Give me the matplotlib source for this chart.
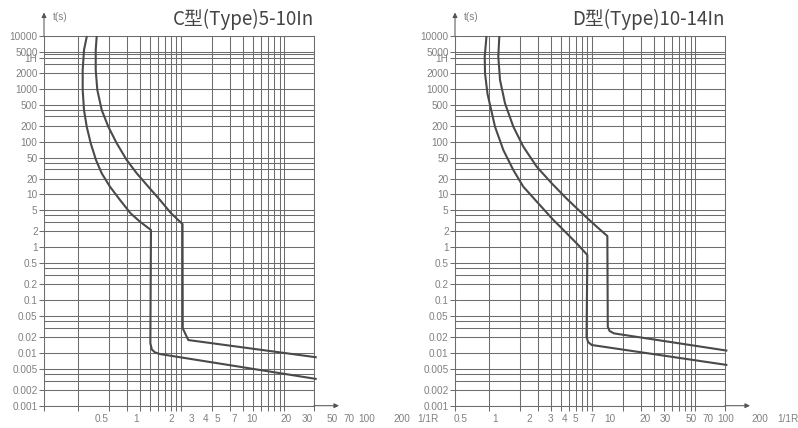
import matplotlib
matplotlib.use("Agg")
import matplotlib.pyplot as plt
from matplotlib.ticker import NullLocator

# ---------------- data ----------------
y_tick_values = [10000, 5000, 3800, 2000, 1000, 500, 200, 100, 50, 20, 10, 5, 2, 1,
                 0.5, 0.2, 0.1, 0.05, 0.02, 0.01, 0.005, 0.002, 0.001]
y_tick_labels = ['10000', '5000', '1H', '2000', '1000', '500', '200', '100', '50', '20', '10',
                 '5', '2', '1', '0.5', '0.2', '0.1', '0.05', '0.02', '0.01', '0.005',
                 '0.002', '0.001']
y_extra_lines = [4500, 2900, 400, 300, 40, 30, 4, 3, 0.4, 0.3, 0.04, 0.03, 0.004, 0.003]

x_grid = [1, 2, 3, 4, 5, 6, 7, 8, 9, 10, 20, 30, 40, 50, 60, 70, 80, 90, 100]
x_limits = (0.47, 194)

x_label_values = [0.5, 1, 2, 3, 4, 5, 7, 10, 20, 30, 50, 70, 100, 200]
x_label_texts = ['0.5', '1', '2', '3', '4', '5', '7', '10', '20', '30', '50', '70', '100', '200']
x_unit = '1/1R'
y_unit = 't(s)'

titles = ['C型(Type)5-10In', 'D型(Type)10-14In']

c_lower_x = [1.224, 1.147, 1.114, 1.114, 1.147, 1.219, 1.333, 1.499, 1.703, 2.049, 2.562,
             3.238, 4.00, 5.11, 5.04, 5.21, 5.59, 6.25, 206]
c_lower_y = [10000, 5430, 2270, 950, 397, 192, 93, 44.9, 25.1, 14, 7.85,
             4.40, 3.05, 2.12, 0.0152, 0.0116, 0.0102, 0.0095, 0.0032]
c_upper_x = [1.523, 1.49, 1.49, 1.544, 1.703, 1.973, 2.38, 2.975, 3.72, 4.82, 6.25,
             8.0, 10.33, 10.38, 11.75, 206]
c_upper_y = [10000, 5430, 2270, 950, 397, 192, 93, 44.9, 25.1, 14, 7.85,
             4.40, 2.75, 0.0292, 0.0175, 0.00824]

d_lower_x = [0.949, 0.912, 0.918, 0.971, 1.147, 1.381, 1.726, 2.157, 2.995, 4.18, 5.68,
             7.36, 9.0, 8.84, 9.14, 9.93, 204.5]
d_lower_y = [10000, 4055, 1967, 798, 192, 69.4, 29, 14, 6.88, 3.35, 1.84,
             1.10, 0.713, 0.0202, 0.0161, 0.0141, 0.00589]
d_upper_x = [1.263, 1.235, 1.283, 1.434, 1.726, 2.157, 2.91, 4.07, 5.72, 8.23, 11.1,
             14.06, 14.2, 14.77, 16.3, 204.5]
d_upper_y = [10000, 4055, 1468, 532, 192, 80.2, 33.5, 16.2, 8.19, 4.17, 2.45,
             1.63, 0.0313, 0.026, 0.0234, 0.011]

curves = [[(c_lower_x, c_lower_y), (c_upper_x, c_upper_y)],
          [(d_lower_x, d_lower_y), (d_upper_x, d_upper_y)]]

# ---------------- style / layout ----------------
W, H = 798, 428
GRID = '#6c6c6c'
TEXT = '#808080'
CURVE = '#4a4a4a'
LBL_FONT = ['Liberation Sans', 'DejaVu Sans']
TITLE_FONT = ['Noto Sans CJK SC', 'DejaVu Sans']
LBL_SIZE = 7.2


def rect(x0, x1, ytop, ybot):
    return [x0 / W, 1 - ybot / H, (x1 - x0) / W, (ybot - ytop) / H]


fig = plt.figure(figsize=(W / 100, H / 100), dpi=100)
fig.patch.set_facecolor('white')

panels = [dict(x0=44, x1=314, lab=(40, 440), one_px=136.5),
          dict(x0=455, x1=725, lab=(398, 798), one_px=495.0)]
ytop, ybot = 36, 405.7
DEC = 115.3  # px per decade of the label strip

for i, p in enumerate(panels):
    ax = fig.add_axes(rect(p['x0'], p['x1'], ytop, ybot))
    ax.set_facecolor('none')
    ax.set_xscale('log')
    ax.set_yscale('log')
    ax.set_xlim(*x_limits)
    ax.set_ylim(0.001, 10000)

    ax.set_xticks([x_limits[0]] + x_grid + [x_limits[1]])
    ax.xaxis.set_minor_locator(NullLocator())
    ax.tick_params(axis='x', which='major', direction='out', length=3.6, width=0.75,
                   color=GRID, labelbottom=False)
    ax.set_yticks(y_tick_values, labels=y_tick_labels)
    ax.yaxis.set_minor_locator(NullLocator())
    ax.tick_params(axis='y', which='major', direction='out', length=3.6, width=0.75,
                   color=GRID, pad=1.0, labelsize=LBL_SIZE, labelcolor=TEXT)
    for t in ax.get_yticklabels():
        t.set_fontfamily(LBL_FONT)

    ax.grid(True, which='major', color=GRID, lw=0.75)
    ax.hlines(y_extra_lines, 0, 1, transform=ax.get_yaxis_transform(), color=GRID,
              lw=0.75, zorder=0.6)
    ax.set_axisbelow(True)
    for s in ax.spines.values():
        s.set_color(GRID)
        s.set_linewidth(0.75)

    for (cx, cy) in curves[i]:
        ax.plot(cx, cy, color=CURVE, lw=1.5, clip_on=False, solid_joinstyle='round',
                solid_capstyle='butt', zorder=3)

    # axis arrows
    arr = dict(arrowstyle='-|>', color='#555555', lw=0.75, mutation_scale=7,
               shrinkA=0, shrinkB=0)
    ax.annotate('', xy=(0, 1 + 23.5 / (ybot - ytop)), xytext=(0, 1),
                xycoords='axes fraction', arrowprops=arr, annotation_clip=False)
    xtip = (750 - 455 + 0.0) / (p['x1'] - p['x0'])
    ax.annotate('', xy=(xtip, 0), xytext=(1, 0), xycoords='axes fraction',
                arrowprops=arr, annotation_clip=False)

    ax.text(0.033, (ybot - 17) / (ybot - ytop), y_unit, transform=ax.transAxes,
            ha='left', va='center', fontsize=LBL_SIZE, color=TEXT, family=LBL_FONT)
    ax.text(1.0, (ybot - 19) / (ybot - ytop), titles[i], transform=ax.transAxes,
            ha='right', va='center', fontsize=13.5, color='#444444', family=TITLE_FONT,
            fontweight='light')

    # label strip (its own log scale, offset from the grid as in the original)
    lx0, lx1 = p['lab']
    axl = fig.add_axes(rect(lx0, lx1, ybot - 1, ybot))
    axl.set_facecolor('none')
    axl.set_xscale('log')
    axl.set_xlim(10 ** ((lx0 - p['one_px']) / DEC), 10 ** ((lx1 - p['one_px']) / DEC))
    axl.set_xticks(x_label_values, labels=x_label_texts)
    axl.xaxis.set_minor_locator(NullLocator())
    axl.set_yticks([])
    axl.tick_params(axis='x', length=0, pad=6, labelsize=LBL_SIZE, labelcolor=TEXT)
    for t in axl.get_xticklabels():
        t.set_fontfamily(LBL_FONT)
    for s in axl.spines.values():
        s.set_visible(False)
    unit_frac = ((788 if i else 428) - lx0) / (lx1 - lx0)
    axl.annotate(x_unit, xy=(unit_frac, 0), xycoords='axes fraction',
                 xytext=(0, -6), textcoords='offset points', ha='center', va='top',
                 fontsize=LBL_SIZE, color=TEXT, family=LBL_FONT,
                 annotation_clip=False)

fig.savefig('out.png', dpi=100, facecolor='white')
